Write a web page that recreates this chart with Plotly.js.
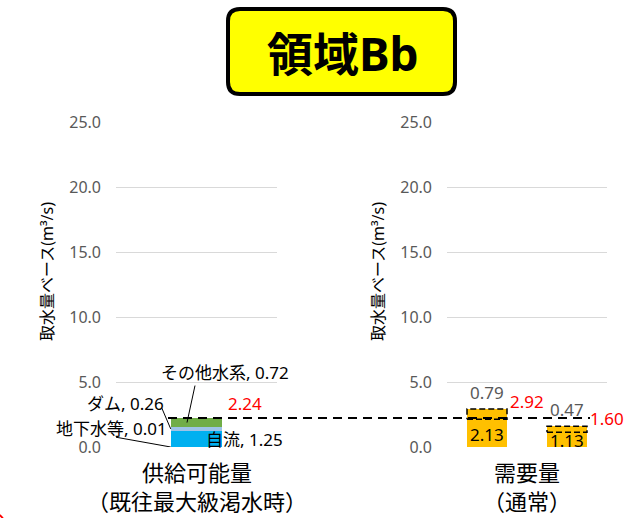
<!DOCTYPE html>
<html><head><meta charset="utf-8">
<script src="https://cdn.plot.ly/plotly-3.0.1.min.js"></script>
<style>html,body{margin:0;padding:0;background:#fff}#c{width:641px;height:518px}</style>
</head><body><div id="c"></div>
<script>
// ---- data ----
const titleText = '領域Bb';
const yTitle = '取水量ベース(m³/s)';
const supplyCategory = ['供給可能量<br>（既往最大級渇水時）'];
const demandCategory = ['需要量<br>（通常）'];
const supplyNames = ['自流', '地下水等', 'ダム', 'その他水系'];
const supplyValues = [1.25, 0.01, 0.26, 0.72];
const supplyColors = ['#00B0F0', '#2E75B6', '#9DC3E6', '#70AD47'];
const demandBase = [2.13, 1.13];
const demandExtra = [0.79, 0.47];
const yTicks = [0, 5, 10, 15, 20, 25];

const W = 641, H = 518;
const px = x => x / W, py = y => 1 - y / H;
const font = 'Noto Sans, Noto Sans CJK JP, sans-serif';
const fmt = v => v.toFixed(2);
const supplyTotal = supplyValues.reduce((a, b) => a + b, 0);
const demandTotal = demandBase.map((b, i) => b + demandExtra[i]);

const traces = [];
supplyNames.forEach((n, i) => {
  traces.push({type: 'bar', x: [0], y: [supplyValues[i]], name: n, width: 0.32,
    marker: {color: supplyColors[i], line: {width: 0}}, xaxis: 'x', yaxis: 'y', hoverinfo: 'skip'});
});
const dIdx = demandBase.map((_, i) => i);
traces.push({type: 'bar', x: dIdx, y: demandBase, width: 0.5, marker: {color: '#FFC000', line: {width: 0}},
  xaxis: 'x2', yaxis: 'y2', hoverinfo: 'skip'});
traces.push({type: 'bar', x: dIdx, y: demandExtra, width: 0.5, marker: {color: '#FFC000', line: {width: 0}},
  xaxis: 'x2', yaxis: 'y2', hoverinfo: 'skip'});
// dashed outline of the extra segment
const ox = [], oy = [];
dIdx.forEach(i => {
  const a = i - 0.25, b = i + 0.25, lo = demandBase[i], hi = demandTotal[i];
  ox.push(a, b, b, a, a, null); oy.push(lo, lo, hi, hi, lo, null);
});
traces.push({type: 'scatter', mode: 'lines', x: ox, y: oy, xaxis: 'x2', yaxis: 'y2',
  line: {color: '#000', width: 1.5, dash: '6px,3px'}, hoverinfo: 'skip', connectgaps: false});

const yaxisBase = {range: [0, 25], tickvals: yTicks, ticktext: yTicks.map(v => v.toFixed(1)),
  showgrid: true, gridcolor: '#D9D9D9', gridwidth: 1, zeroline: false, showline: false,
  ticks: '', ticklabelstandoff: 14, tickfont: {family: font, size: 16, color: '#595959'}, fixedrange: true};

const ann = [];
const LF = {family: font, size: 17, color: '#000'};
const A = (text, x, y, opts = {}) => ann.push(Object.assign({text, x: px(x), y: py(y), xref: 'paper', yref: 'paper',
  showarrow: false, xanchor: 'center', yanchor: 'middle', font: LF}, opts));
// title
ann.push({text: '<b>' + titleText + '</b>', x: px(343), y: py(53), xref: 'paper', yref: 'paper', showarrow: false,
  xanchor: 'center', yanchor: 'middle', font: {family: font, size: 46, color: '#000'}});
// y axis titles
[47, 378].forEach(x => A(yTitle, x, 272, {textangle: -90, font: {family: font, size: 16, color: '#000'}}));
// category labels
ann.push({text: supplyCategory[0], x: 0, xref: 'x', y: 0, yref: 'y', yanchor: 'top', yshift: -8, showarrow: false,
  font: {family: font, size: 22, color: '#000'}});
ann.push({text: demandCategory[0], x: 0.5, xref: 'x2', y: 0, yref: 'y2', yanchor: 'top', yshift: -8, showarrow: false,
  font: {family: font, size: 22, color: '#000'}});
// supply labels
A(supplyNames[3] + ', ' + fmt(supplyValues[3]), 225, 372);
A(supplyNames[2] + ', ' + fmt(supplyValues[2]), 125, 403);
A(supplyNames[1] + ', ' + fmt(supplyValues[1]), 111, 428);
A(supplyNames[0] + ', ' + fmt(supplyValues[0]), 204, 439, {xanchor: 'left'});
A(fmt(supplyTotal), 245, 403, {font: {family: font, size: 17, color: '#FF0000'}});
// demand labels
demandBase.forEach((b, i) => {
  ann.push({text: fmt(demandExtra[i]), x: i, xref: 'x2', y: demandTotal[i], yref: 'y2', yanchor: 'bottom', yshift: 3,
    showarrow: false, font: {family: font, size: 17, color: '#595959'}});
  ann.push({text: fmt(demandTotal[i]), x: i, xref: 'x2', y: demandTotal[i], yref: 'y2', yanchor: 'middle', yshift: 8,
    xshift: 40, showarrow: false, font: {family: font, size: 17, color: '#FF0000'}});
  ann.push({text: fmt(b), x: i, xref: 'x2', y: b / 2, yref: 'y2', yanchor: 'middle', yshift: -1,
    showarrow: false, font: {family: font, size: 17, color: '#000'}});
});

const r = 12, rx = r / W, ry = r / H;
const bx0 = px(228), bx1 = px(455), by0 = py(94), by1 = py(9);
const boxPath = `M ${bx0 + rx},${by0} L ${bx1 - rx},${by0} Q ${bx1},${by0} ${bx1},${by0 + ry} L ${bx1},${by1 - ry} Q ${bx1},${by1} ${bx1 - rx},${by1} L ${bx0 + rx},${by1} Q ${bx0},${by1} ${bx0},${by1 - ry} L ${bx0},${by0 + ry} Q ${bx0},${by0} ${bx0 + rx},${by0} Z`;

const leader = (xa, ya, x0, y0) => ({type: 'line', xref: 'x', yref: 'y', xsizemode: 'pixel', ysizemode: 'pixel',
  xanchor: xa, yanchor: ya, x0: x0, y0: y0, x1: 0, y1: 0, line: {color: '#000', width: 1}});
const cum = supplyValues.reduce((a, v, i) => (a.push((i ? a[i - 1] : 0) + v), a), []);

const shapes = [
  {type: 'path', xref: 'paper', yref: 'paper', path: boxPath, fillcolor: '#FFFF00', line: {color: '#000', width: 4}, layer: 'below'},
  {type: 'line', xref: 'paper', yref: 'y', x0: px(168), x1: px(590), y0: supplyTotal, y1: supplyTotal,
    line: {color: '#000', width: 2, dash: '9px,6px'}},
  leader(-0.059, cum[2] + supplyValues[3] / 2, 8, 37),
  leader(-0.16, cum[1] + supplyValues[2] / 2, -9, 21),
  leader(-0.16, 0, -56, 10),
  {type: 'circle', xref: 'paper', yref: 'paper', x0: px(-14), x1: px(4), y0: py(532), y1: py(514),
    line: {color: '#FF0000', width: 2}, fillcolor: 'rgba(0,0,0,0)'}
];

const layout = {
  width: W, height: H, margin: {l: 0, r: 0, t: 0, b: 0}, paper_bgcolor: '#fff', plot_bgcolor: 'rgba(0,0,0,0)',
  showlegend: false, barmode: 'stack', font: {family: font},
  xaxis: {domain: [px(116), px(277)], range: [-0.5, 0.5], showticklabels: false, showgrid: false, zeroline: false,
    showline: false, ticks: '', anchor: 'y', fixedrange: true},
  xaxis2: {domain: [px(447), px(607)], range: [-0.5, 1.5], showticklabels: false, showgrid: false, zeroline: false,
    showline: false, ticks: '', anchor: 'y2', fixedrange: true},
  yaxis: Object.assign({}, yaxisBase, {domain: [py(447), py(122)], anchor: 'x'}),
  yaxis2: Object.assign({}, yaxisBase, {domain: [py(447), py(122)], anchor: 'x2'}),
  annotations: ann, shapes: shapes
};
Plotly.newPlot('c', traces, layout, {staticPlot: true, displayModeBar: false});
</script></body></html>
